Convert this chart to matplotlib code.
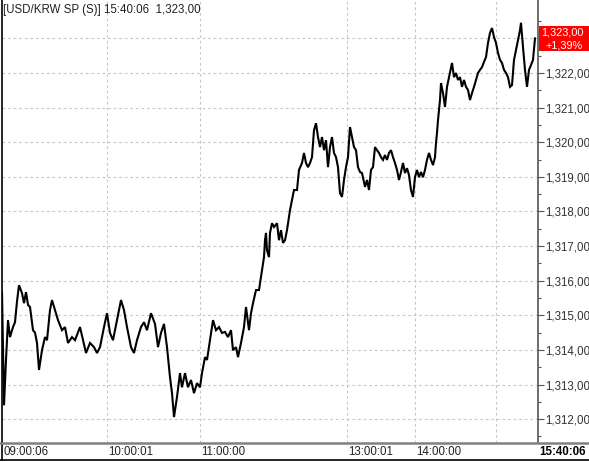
import matplotlib
matplotlib.use("Agg")
import matplotlib.pyplot as plt
from matplotlib.lines import Line2D
from matplotlib.patches import Rectangle

# ---- data (sample index along the tick axis, price) ----
sample = [0, 1, 2, 4, 6, 8, 11, 13, 15, 17, 20, 22, 24, 26, 28, 31, 33, 35, 37, 40,
          43, 45, 48, 50, 53, 56, 60, 63, 66, 70, 73, 78, 81, 84, 88, 92, 95, 98, 102, 105,
          108, 111, 115, 119, 122, 125, 129, 132, 135, 139, 142, 145, 149, 153, 156, 159, 162, 165, 168, 170,
          172, 175, 178, 180, 183, 186, 189, 192, 195, 198, 200, 203, 205, 208, 211, 214, 217, 220, 223, 226,
          229, 231, 234, 236, 239, 242, 244, 247, 249, 251, 254, 257, 260, 262, 263, 264, 265, 267, 268, 270,
          272, 275, 277, 279, 281, 283, 285, 288, 290, 292, 295, 297, 300, 302, 304, 306, 308, 310, 312, 314,
          316, 318, 320, 322, 324, 326, 328, 330, 332, 334, 336, 338, 340, 342, 344, 346, 348, 350, 352, 354,
          356, 358, 360, 363, 365, 367, 369, 371, 373, 375, 377, 379, 381, 383, 385, 387, 389, 391, 393, 395,
          397, 399, 401, 403, 405, 407, 409, 411, 413, 415, 417, 419, 421, 423, 425, 427, 429, 431, 433, 434,
          435, 436, 437, 438, 439, 441, 443, 445, 447, 449, 450, 452, 454, 456, 458, 460, 462, 464, 466, 468,
          470, 472, 474, 476, 478, 480, 482, 484, 486, 488, 490, 492, 494, 496, 498, 500, 502, 504, 506, 508,
          510, 512, 514, 516, 518, 519, 521, 523, 525, 527, 529, 531, 533]
price = [1315.67, 1314.00, 1312.40, 1313.71, 1314.86, 1314.37, 1314.66, 1314.80, 1315.40, 1315.87,
         1315.64, 1315.35, 1315.67, 1315.30, 1315.24, 1314.57, 1314.50, 1314.20, 1313.42, 1313.99,
         1314.37, 1314.28, 1315.15, 1315.44, 1315.15, 1314.86, 1314.57, 1314.66, 1314.20, 1314.37,
         1314.28, 1314.66, 1314.28, 1313.91, 1314.20, 1314.08, 1313.91, 1314.08, 1314.66, 1315.06,
         1314.49, 1314.28, 1314.86, 1315.44, 1315.15, 1314.66, 1314.08, 1313.91, 1314.28, 1314.66,
         1314.80, 1314.57, 1315.06, 1314.75, 1314.08, 1314.49, 1314.75, 1314.08, 1313.21, 1312.75,
         1312.06, 1312.64, 1313.33, 1312.92, 1313.33, 1312.92, 1313.13, 1312.75, 1313.04, 1312.92,
         1313.33, 1313.79, 1313.71, 1314.28, 1314.86, 1314.57, 1314.66, 1314.49, 1314.52, 1314.37,
         1314.57, 1313.99, 1314.08, 1313.79, 1314.20, 1314.66, 1315.24, 1314.57, 1315.06, 1315.35,
         1315.73, 1315.73, 1316.31, 1316.68, 1317.17, 1317.38, 1316.88, 1316.68, 1317.38, 1317.66,
         1317.55, 1317.66, 1317.17, 1317.46, 1317.09, 1317.17, 1317.46, 1318.04, 1318.33, 1318.62,
         1318.62, 1319.20, 1319.40, 1319.69, 1319.40, 1319.28, 1319.40, 1319.57, 1320.35, 1320.55,
         1320.15, 1319.86, 1320.15, 1319.77, 1320.06, 1319.28, 1319.86, 1320.15, 1319.69, 1319.57,
         1319.28, 1318.53, 1318.42, 1318.91, 1319.28, 1319.57, 1320.44, 1320.15, 1319.86, 1319.77,
         1319.28, 1319.14, 1319.11, 1318.71, 1318.91, 1318.62, 1319.20, 1319.28, 1319.86, 1319.77,
         1319.69, 1319.57, 1319.49, 1319.63, 1319.49, 1319.69, 1319.77, 1319.57, 1319.40, 1319.20,
         1318.91, 1319.14, 1319.40, 1319.11, 1319.25, 1319.05, 1318.62, 1318.42, 1318.99, 1319.20,
         1318.99, 1319.14, 1318.99, 1319.20, 1319.49, 1319.69, 1319.49, 1319.34, 1319.57, 1319.98,
         1320.27, 1320.64, 1320.93, 1321.22, 1321.71, 1321.42, 1321.02, 1321.60, 1321.88, 1322.17,
         1322.29, 1321.88, 1322.00, 1321.80, 1321.88, 1321.60, 1321.80, 1321.60, 1321.51, 1321.22,
         1321.42, 1321.60, 1321.80, 1322.00, 1322.09, 1322.17, 1322.32, 1322.46, 1322.87, 1323.16,
         1323.30, 1323.04, 1322.87, 1322.58, 1322.38, 1322.29, 1322.09, 1322.00, 1321.88, 1321.60,
         1321.65, 1322.38, 1322.66, 1322.95, 1323.24, 1323.45, 1322.75, 1322.09, 1321.60, 1322.09,
         1322.23, 1322.38, 1323.00]

time_tick_pos = [0, 105, 198, 345, 413]
time_tick_labels = ["09:00:06", "10:00:01", "11:00:00", "13:00:01", "14:00:00"]
extra_vgrid = [494]
last_time = "15:40:06"
price_ticks = [1312, 1313, 1314, 1315, 1316, 1317, 1318, 1319, 1320, 1321, 1322, 1323]
# the 1,323 label is hidden behind the last-price box in the reference
price_labels = ["1,312,00", "1,313,00", "1,314,00", "1,315,00", "1,316,00", "1,317,00",
                "1,318,00", "1,319,00", "1,320,00", "1,321,00", "1,322,00", ""]
title = "[USD/KRW SP (S)] 15:40:06  1,323,00"
last_price = "1,323,00"
change_pct = "+1,39%"

FONT = "Liberation Sans"
W, H = 589, 462
fig = plt.figure(figsize=(W / 100, H / 100), dpi=100)
fig.patch.set_facecolor("white")

def fx(px):
    return px / W

def fy(py):
    return 1 - py / H

ax_l, ax_r, ax_t, ax_b = 2, 538, 0, 443
ax = fig.add_axes([fx(ax_l), fy(ax_b), fx(ax_r - ax_l), (ax_b - ax_t) / H])
ax.set_facecolor("white")

ax.plot(sample, price, color="black", lw=1.5, solid_joinstyle="miter")

ax.set_xlim(0, 536)
ax.set_ylim(1311.31, 1324.11)

grid_kw = dict(color="#c8c8c8", lw=0.8, ls=(0, (2.5, 2.5)), zorder=0)
for v in price_ticks:
    ax.axhline(v, **grid_kw)
for p in time_tick_pos[1:] + extra_vgrid:
    ax.axvline(p, **grid_kw)

for s in ax.spines.values():
    s.set_visible(False)
ax.set_xticks([])
ax.yaxis.tick_right()
ax.set_yticks(price_ticks)
ax.set_yticklabels(price_labels, fontsize=8.3, family=FONT, color="#333333")
ax.set_yticks([v + 0.5 for v in price_ticks[:-1]] + [1311.5, 1323.5], minor=True)
ax.tick_params(axis="y", which="major", length=4, width=0.8, color="#555555", pad=1)
ax.tick_params(axis="y", which="minor", length=2, width=0.8, color="#555555")

# frame lines
fig.add_artist(Line2D([fx(1.5), fx(1.5)], [fy(0), fy(460)], color="black", lw=1.2))
fig.add_artist(Line2D([fx(538), fx(538)], [fy(0), fy(443)], color="#555555", lw=1.2))
fig.add_artist(Line2D([0, 1], [fy(443), fy(443)], color="#808080", lw=1.8))
fig.add_artist(Line2D([0, 1], [fy(460), fy(460)], color="black", lw=1.2))

# time labels
for p, lab in zip(time_tick_pos, time_tick_labels):
    xpix = ax_l + p * (ax_r - ax_l) / 536 + 1
    fig.text(fx(xpix), fy(452), lab, fontsize=8.3, family=FONT, color="#222222",
             ha="left", va="center")
fig.text(fx(586), fy(452), last_time, fontsize=8.3, family=FONT, color="black",
         fontweight="bold", ha="right", va="center")

# title
fig.text(fx(3), fy(10), title, fontsize=8.3, family=FONT, color="#222222",
         ha="left", va="center")

# last price box
fig.add_artist(Rectangle((fx(539), fy(51)), fx(50), (51 - 26) / H,
                         facecolor="#ff0000", edgecolor="none"))
fig.text(fx(541), fy(32.5), last_price, fontsize=7.8, family=FONT, color="white",
         ha="left", va="center")
fig.text(fx(546), fy(45), change_pct, fontsize=7.8, family=FONT, color="white",
         ha="left", va="center")

fig.savefig("out.png", dpi=100, facecolor="white")
